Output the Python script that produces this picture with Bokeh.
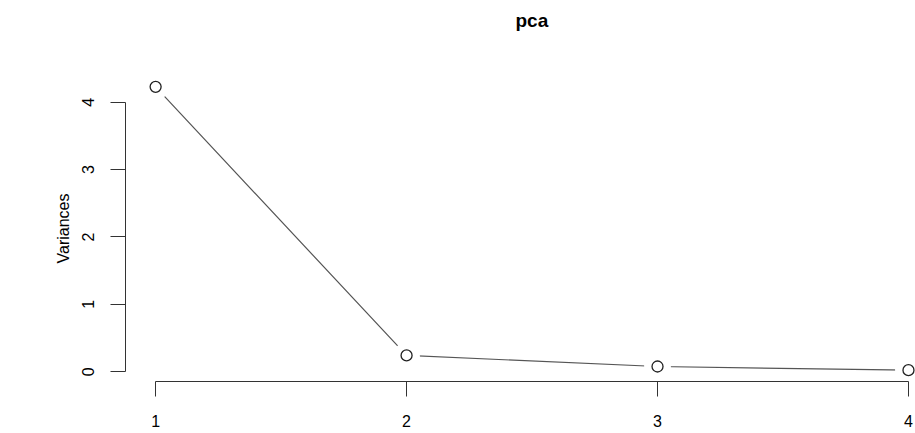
from bokeh.plotting import figure
from bokeh.models import Range1d, FixedTicker, Title, ColumnDataSource
from bokeh.embed import file_html
from bokeh.resources import INLINE

components = [1, 2, 3, 4]
variances = [4.228, 0.2427, 0.0782, 0.0238]
y_ticks = [0, 1, 2, 3, 4]
x_ticks = [1, 2, 3, 4]
title_text = "pca"

FONT = "Liberation Sans"

src = ColumnDataSource(dict(x=components, y=variances))

p = figure(width=915, height=433, output_backend="svg", toolbar_location=None,
           x_range=Range1d(0.88, 4.028), y_range=Range1d(-0.144, 4.396),
           min_border_left=125, min_border_right=0, min_border_top=75, min_border_bottom=52)
p.title = None
p.outline_line_color = None
p.xgrid.visible = False
p.ygrid.visible = False
p.background_fill_color = "white"
p.border_fill_color = "white"

# empty spacer panel next to the plot region, then the title above it
p.add_layout(Title(text=" ", text_font=FONT, text_font_size="10px", standoff=22), "above")
p.add_layout(Title(text=title_text, align="left", offset=390, vertical_align="top", standoff=16,
                   text_font=FONT, text_font_size="19px", text_font_style="bold",
                   text_color="#000000"), "above")

p.line("x", "y", source=src, line_color="#555555", line_width=1.2)
p.scatter("x", "y", source=src, size=26, fill_color="white", fill_alpha=1.0,
          line_color="white", line_width=1)
p.scatter("x", "y", source=src, size=11, fill_color="white", line_color="#222222", line_width=1.3)

for ax in (p.xaxis[0], p.yaxis[0]):
    ax.major_tick_in = 0
    ax.major_tick_out = 15
    ax.minor_tick_line_color = None
    ax.axis_line_color = "#333333"
    ax.major_tick_line_color = "#333333"
    ax.major_label_text_font = FONT
    ax.major_label_text_font_size = "16px"
    ax.major_label_text_color = "#000000"

p.xaxis.ticker = FixedTicker(ticks=x_ticks)
p.xaxis.bounds = (1, 4)
p.xaxis.major_label_standoff = 18

p.yaxis.ticker = FixedTicker(ticks=y_ticks)
p.yaxis.bounds = (0, 4)
p.yaxis.major_label_orientation = "vertical"
p.yaxis.major_label_standoff = 16
p.yaxis.axis_label = "Variances"
p.yaxis.axis_label_text_font = FONT
p.yaxis.axis_label_text_font_size = "16px"
p.yaxis.axis_label_text_font_style = "normal"
p.yaxis.axis_label_text_color = "#000000"
p.yaxis.axis_label_standoff = 8

open("out.html", "w").write(file_html(p, INLINE))
